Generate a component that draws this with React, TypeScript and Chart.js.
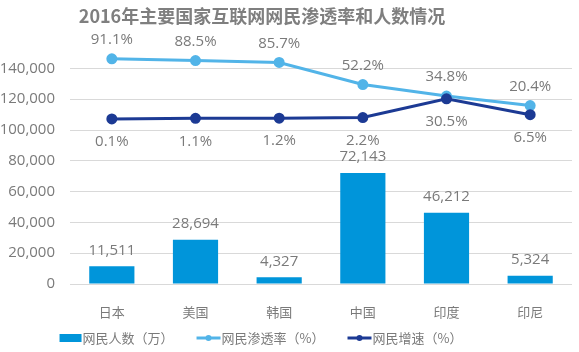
import React, { useEffect, useRef } from "react";
import { Chart, registerables } from "chart.js";

Chart.register(...registerables);

const categories = ["日本", "美国", "韩国", "中国", "印度", "印尼"];
const users = [11511, 28694, 4327, 72143, 46212, 5324];
const penetration = [91.1, 88.5, 85.7, 52.2, 34.8, 20.4];
const growth = [0.1, 1.1, 1.2, 2.2, 30.5, 6.5];
const yTicks = [0, 20000, 40000, 60000, 80000, 100000, 120000, 140000];
const seriesNames = ["网民人数（万）", "网民渗透率（%）", "网民增速（%）"];
const titleText = "2016年主要国家互联网网民渗透率和人数情况";

const BAR = "#0095DA";
const LIGHT = "#52B4E8";
const DARK = "#1C3A94";
const NUMFONT = "'Open Sans', 'Noto Sans CJK SC', sans-serif";
const CJKFONT = "'Noto Sans CJK SC', sans-serif";
const TEXT = "#7a7a7a";

const labelsPlugin = {
  id: "valueLabels",
  afterDatasetsDraw(chart: any) {
    const ctx = chart.ctx;
    ctx.save();
    ctx.textAlign = "center";
    ctx.textBaseline = "middle";
    ctx.fillStyle = TEXT;
    ctx.font = `15px ${NUMFONT}`;
    chart.getDatasetMeta(0).data.forEach((el: any, i: number) => {
      ctx.fillText(users[i].toLocaleString("en-US"), el.x, el.y - 16);
    });
    chart.getDatasetMeta(1).data.forEach((el: any, i: number) => {
      ctx.fillText(penetration[i].toFixed(1) + "%", el.x, el.y - 19);
    });
    chart.getDatasetMeta(2).data.forEach((el: any, i: number) => {
      ctx.fillText(growth[i].toFixed(1) + "%", el.x, el.y + 23);
    });
    ctx.restore();
  },
};

const titlePlugin = {
  id: "customTitle",
  afterDraw(chart: any) {
    const ctx = chart.ctx;
    ctx.save();
    ctx.textAlign = "center";
    ctx.textBaseline = "middle";
    ctx.fillStyle = "#7f7f7f";
    ctx.font = `bold 18px ${CJKFONT}`;
    ctx.fillText(titleText, 262, 16);
    ctx.restore();
  },
};

const legendPlugin = {
  id: "customLegend",
  afterDraw(chart: any) {
    const ctx = chart.ctx;
    const datasets = chart.data.datasets;
    ctx.save();
    ctx.font = `13px ${CJKFONT}`;
    ctx.textBaseline = "middle";
    ctx.textAlign = "left";
    const iconW = [22, 24, 24];
    const gapIconText = 1;
    const gapItems = 23;
    const widths = datasets.map((d: any, i: number) => iconW[i] + gapIconText + ctx.measureText(d.label).width);
    const total = widths.reduce((a: number, b: number) => a + b, 0) + gapItems * (datasets.length - 1);
    let x = 261 - total / 2;
    const y = 338;
    datasets.forEach((d: any, i: number) => {
      if (d.type === "bar") {
        ctx.fillStyle = d.backgroundColor;
        ctx.fillRect(x, y - 4, iconW[i], 8);
      } else {
        ctx.strokeStyle = d.borderColor;
        ctx.lineWidth = 3;
        ctx.beginPath();
        ctx.moveTo(x, y);
        ctx.lineTo(x + iconW[i], y);
        ctx.stroke();
        ctx.fillStyle = d.borderColor;
        ctx.beginPath();
        ctx.arc(x + iconW[i] / 2, y, 3, 0, Math.PI * 2);
        ctx.fill();
      }
      ctx.fillStyle = TEXT;
      ctx.fillText(d.label, x + iconW[i] + gapIconText, y);
      x += widths[i] + gapItems;
    });
    ctx.restore();
  },
};

export default function App() {
  const ref = useRef<HTMLCanvasElement>(null);

  useEffect(() => {
    if (!ref.current) return;
    const chart = new Chart(ref.current, {
      type: "bar",
      data: {
        labels: categories,
        datasets: [
          {
            type: "bar",
            label: seriesNames[0],
            data: users,
            backgroundColor: BAR,
            yAxisID: "y",
            categoryPercentage: 1,
            barPercentage: 0.54,
            order: 3,
          },
          {
            type: "line",
            label: seriesNames[1],
            data: penetration,
            borderColor: LIGHT,
            backgroundColor: LIGHT,
            borderWidth: 3,
            pointRadius: 4,
            pointBackgroundColor: LIGHT,
            pointBorderColor: LIGHT,
            yAxisID: "y2",
            order: 2,
          },
          {
            type: "line",
            label: seriesNames[2],
            data: growth,
            borderColor: DARK,
            backgroundColor: DARK,
            borderWidth: 3,
            pointRadius: 4,
            pointBackgroundColor: DARK,
            pointBorderColor: DARK,
            yAxisID: "y2",
            order: 1,
          },
        ],
      },
      options: {
        animation: false,
        responsive: false,
        maintainAspectRatio: false,
        layout: { padding: { left: 0, right: 6, top: 53, bottom: 30 } },
        elements: { line: { tension: 0 } },
        scales: {
          x: {
            grid: { display: false, drawTicks: false },
            border: { display: false },
            afterFit: (scale: any) => {
              scale.height = 38;
            },
            ticks: {
              color: TEXT,
              font: { family: CJKFONT, size: 13 },
              padding: 20,
            },
          },
          y: {
            position: "left",
            min: 0,
            max: 150000,
            afterBuildTicks: (scale: any) => {
              scale.ticks = yTicks.map((v) => ({ value: v }));
            },
            afterFit: (scale: any) => {
              scale.width = 70;
            },
            ticks: {
              color: TEXT,
              font: { family: NUMFONT, size: 15 },
              padding: 15,
              callback: (v: any) => Number(v).toLocaleString("en-US"),
            },
            grid: { color: "#d9d9d9", drawTicks: false },
            border: { display: false },
          },
          y2: {
            display: false,
            min: -250,
            max: 100,
          },
        },
        plugins: {
          title: { display: false },
          tooltip: { enabled: false },
          legend: { display: false },
        },
      },
      plugins: [labelsPlugin, titlePlugin, legendPlugin],
    });
    return () => chart.destroy();
  }, []);

  return (
    <div style={{ position: "fixed", left: 0, top: 0, width: 579, height: 352, background: "#fff" }}>
      <canvas ref={ref} width={579} height={352} style={{ width: 579, height: 352 }} />
    </div>
  );
}
